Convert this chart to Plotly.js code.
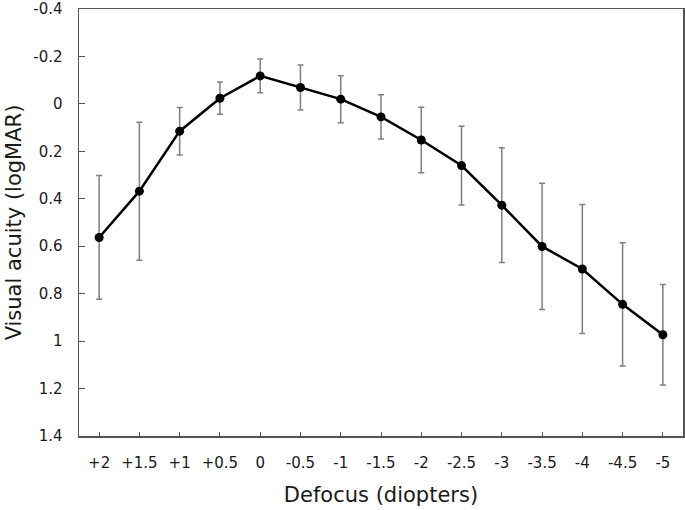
<!DOCTYPE html>
<html>
<head>
<meta charset="utf-8">
<script src="https://cdn.plot.ly/plotly-3.0.1.min.js"></script>
<style>html,body{margin:0;padding:0;background:#fff;}#chart{width:685px;height:510px;}</style>
</head>
<body>
<div id="chart"></div>
<script>
var defocus = ["+2","+1.5","+1","+0.5","0","-0.5","-1","-1.5","-2","-2.5","-3","-3.5","-4","-4.5","-5"];
var acuity = [0.563,0.368,0.115,-0.024,-0.118,-0.069,-0.020,0.055,0.152,0.260,0.427,0.601,0.696,0.845,0.973];
var sd = [0.261,0.291,0.100,0.068,0.071,0.095,0.099,0.093,0.138,0.166,0.242,0.266,0.272,0.260,0.212];
var yTickVals = [-0.4,-0.2,0,0.2,0.4,0.6,0.8,1,1.2,1.4];
var yTickText = ["-0.4","-0.2","0","0.2","0.4","0.6","0.8","1","1.2","1.4"];

var trace = {
  x: defocus,
  y: acuity,
  type: 'scatter',
  mode: 'lines+markers',
  line: {color: '#000000', width: 2.5},
  marker: {color: '#000000', size: 9},
  error_y: {type: 'data', array: sd, visible: true, color: '#7f7f7f', thickness: 1.5, width: 3},
  cliponaxis: false
};

var axisColor = '#555555';
var layout = {
  width: 685, height: 510,
  margin: {l: 79, r: 2, t: 9, b: 74},
  paper_bgcolor: '#ffffff', plot_bgcolor: '#ffffff',
  font: {family: 'DejaVu Sans, Verdana, sans-serif', size: 15, color: '#1a1a1a'},
  showlegend: false,
  xaxis: {
    type: 'category',
    range: [-0.5, 14.5],
    showgrid: false, zeroline: false,
    showline: true, linecolor: axisColor, linewidth: 1.5, mirror: true,
    ticks: 'inside', ticklen: 4, tickcolor: axisColor, tickwidth: 1,
    ticklabelstandoff: 12,
    tickfont: {size: 15},
    title: {text: 'Defocus (diopters)', font: {size: 21}, standoff: 17}
  },
  yaxis: {
    range: [1.4, -0.4],
    tickvals: yTickVals, ticktext: yTickText,
    showgrid: false, zeroline: false,
    showline: true, linecolor: axisColor, linewidth: 1.5, mirror: true,
    ticks: 'inside', ticklen: 6, tickcolor: axisColor, tickwidth: 1,
    ticklabelstandoff: 12,
    tickfont: {size: 15},
    title: {text: 'Visual acuity (logMAR)', font: {size: 21}, standoff: 6}
  }
};

Plotly.newPlot('chart', [trace], layout, {displayModeBar: false, staticPlot: true});
</script>
</body>
</html>
